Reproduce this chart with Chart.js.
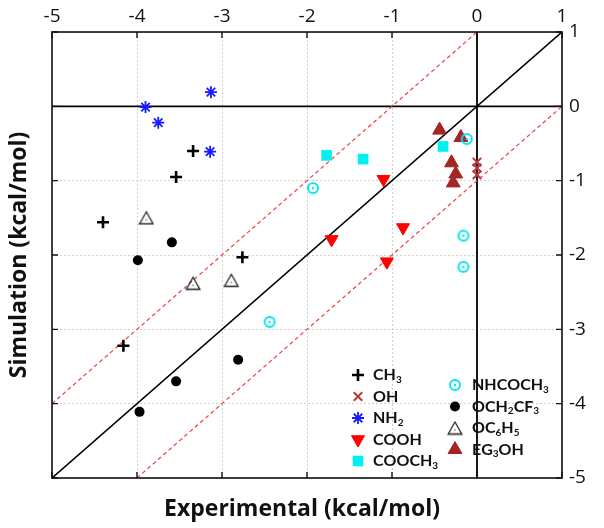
<!DOCTYPE html>
<html>
<head>
<meta charset="utf-8">
<script src="https://cdn.jsdelivr.net/npm/chart.js@4/dist/chart.umd.min.js"></script>
<style>
html,body{margin:0;padding:0;background:#fff;}
#wrap{width:604px;height:528px;position:relative;}
</style>
</head>
<body>
<div id="wrap"><canvas id="c" width="604" height="528"></canvas></div>
<script>
// ---- data ----
const xTicks = [-5, -4, -3, -2, -1, 0, 1];
const yTicks = [-5, -4, -3, -2, -1, 0, 1];
const xTitle = "Experimental (kcal/mol)";
const yTitle = "Simulation (kcal/mol)";

const ch3X = [-3.34, -3.54, -4.40, -2.76, -4.16];
const ch3Y = [-0.60, -0.95, -1.56, -2.03, -3.22];
const ohX = [0, 0, 0];
const ohY = [-0.75, -0.83, -0.92];
const nh2X = [-3.13, -3.90, -3.75, -3.14];
const nh2Y = [0.19, -0.01, -0.22, -0.61];
const coohX = [-1.10, -0.87, -1.71, -1.06];
const coohY = [-0.98, -1.63, -1.79, -2.09];
const cooch3X = [-1.77, -1.34, -0.40];
const cooch3Y = [-0.66, -0.71, -0.54];
const nhcoch3X = [-2.44, -1.93, -0.12, -0.16, -0.16];
const nhcoch3Y = [-2.90, -1.10, -0.44, -1.74, -2.16];
const och2cf3X = [-3.59, -3.99, -2.81, -3.54, -3.97];
const och2cf3Y = [-1.83, -2.07, -3.41, -3.70, -4.11];
const oc6h5X = [-3.89, -3.34, -2.89];
const oc6h5Y = [-1.50, -2.38, -2.34];
const eg3ohX = [-0.44, -0.19, -0.30, -0.25, -0.28];
const eg3ohY = [-0.32, -0.42, -0.76, -0.91, -1.03];

// reference line offsets (y = x + k)
const diagOffsets = [0, 1, -1];

const FONT = "'Open Sans', Lato, sans-serif";
const LFONT = "Lato, 'Open Sans', sans-serif";

function pts(xs, ys){ return xs.map((v,i)=>({x:v, y:ys[i]})); }

// custom marker images
function circleDot(){
  const c = document.createElement('canvas'); c.width = 14; c.height = 14;
  const g = c.getContext('2d');
  g.strokeStyle = '#00e8f0'; g.lineWidth = 2;
  g.beginPath(); g.arc(7,7,5,0,Math.PI*2); g.stroke();
  g.fillStyle = '#00e8f0'; g.beginPath(); g.arc(7,7,1.2,0,Math.PI*2); g.fill();
  return c;
}
function triDot(){
  const c = document.createElement('canvas'); c.width = 16; c.height = 15;
  const g = c.getContext('2d');
  g.strokeStyle = '#222'; g.lineWidth = 1.3;
  g.beginPath(); g.moveTo(8,1.5); g.lineTo(14.8,13.5); g.lineTo(1.2,13.5); g.closePath(); g.stroke();
  g.fillStyle = '#555'; g.beginPath(); g.arc(8,9.5,0.8,0,Math.PI*2); g.fill();
  return c;
}
const imgCircleDot = circleDot();
const imgTriDot = triDot();

const series = [
  {label:'CH₃', xs:ch3X, ys:ch3Y, style:'cross', r:6, color:'#000', fill:'#000', bw:2.6, col:0},
  {label:'OH', xs:ohX, ys:ohY, style:'crossRot', r:6, color:'#b83838', fill:'#b83838', bw:2, col:0},
  {label:'NH₂', xs:nh2X, ys:nh2Y, style:'star', r:6, color:'#1a1aff', fill:'#1a1aff', bw:1.8, col:0},
  {label:'COOH', xs:coohX, ys:coohY, style:'triangle', rot:180, r:7.5, color:'#ff0000', fill:'#ff0000', bw:1, col:0},
  {label:'COOCH₃', xs:cooch3X, ys:cooch3Y, style:'rect', r:7.5, color:'#00f0f0', fill:'#00f0f0', bw:0, col:0},
  {label:'NHCOCH₃', xs:nhcoch3X, ys:nhcoch3Y, style:imgCircleDot, r:7, color:'#00e8f0', fill:'#00e8f0', bw:0, col:1},
  {label:'OCH₂CF₃', xs:och2cf3X, ys:och2cf3Y, style:'circle', r:5, color:'#000', fill:'#000', bw:0, col:1},
  {label:'OC₆H₅', xs:oc6h5X, ys:oc6h5Y, style:imgTriDot, r:7, color:'#222', fill:'#fff', bw:1.3, col:1},
  {label:'EG₃OH', xs:eg3ohX, ys:eg3ohY, style:'triangle', r:8, color:'#a52424', fill:'#a52424', bw:1, col:1}
];

const xMin = xTicks[0], xMax = xTicks[xTicks.length-1];
const yMin = yTicks[0], yMax = yTicks[yTicks.length-1];

const datasets = series.map(s => ({
  type:'scatter', label:s.label, data:pts(s.xs, s.ys),
  pointStyle:s.style, pointRadius:s.r, pointRotation:s.rot||0,
  pointBorderWidth:s.bw, borderColor:s.color, backgroundColor:s.fill,
  pointHoverRadius:s.r, order:0
}));

// diagonal lines y = x + k, clipped at the axis box
diagOffsets.forEach(k => {
  const x0 = Math.max(xMin, yMin - k), x1 = Math.min(xMax, yMax - k);
  datasets.push({type:'line', label:'_diag'+k, data:[{x:x0,y:x0+k},{x:x1,y:x1+k}],
    borderColor: k===0 ? '#000' : '#f04040', borderWidth: k===0 ? 1.6 : 1.2,
    borderDash: k===0 ? [] : [4,3], pointRadius:0, fill:false, order:5});
});
// zero lines
datasets.push({type:'line', label:'_h0', data:[{x:xMin,y:0},{x:xMax,y:0}], borderColor:'#000', borderWidth:1.8, pointRadius:0, order:5});
datasets.push({type:'line', label:'_v0', data:[{x:0,y:yMin},{x:0,y:yMax}], borderColor:'#000', borderWidth:1.8, pointRadius:0, order:5});

const SUBS = '₀₁₂₃₄₅₆₇₈₉';
function drawRich(ctx, text, x, y, size){
  let cx = x;
  for (const ch of text){
    const si = SUBS.indexOf(ch);
    if (si >= 0){
      ctx.font = `bold ${Math.round(size*0.65)}px ${LFONT}`;
      ctx.fillText(String(si), cx, y + size*0.28);
      cx += ctx.measureText(String(si)).width;
    } else {
      ctx.font = `bold ${size}px ${LFONT}`;
      ctx.fillText(ch, cx, y);
      cx += ctx.measureText(ch).width;
    }
  }
}

const deco = {
  id:'deco',
  afterDraw(chart){
    const {ctx, chartArea:a, scales} = chart;
    const x = scales.x, y = scales.y;
    ctx.save();
    ctx.strokeStyle = '#111'; ctx.lineWidth = 1.6;
    ctx.strokeRect(a.left, a.top, a.right - a.left, a.bottom - a.top);
    ctx.lineWidth = 1.4;
    ctx.beginPath();
    xTicks.forEach(v => { const p = x.getPixelForValue(v);
      ctx.moveTo(p, a.top); ctx.lineTo(p, a.top + 6);
      ctx.moveTo(p, a.bottom); ctx.lineTo(p, a.bottom - 6); });
    yTicks.forEach(v => { const p = y.getPixelForValue(v);
      ctx.moveTo(a.left, p); ctx.lineTo(a.left + 6, p);
      ctx.moveTo(a.right, p); ctx.lineTo(a.right - 6, p); });
    ctx.stroke();

    // titles
    ctx.fillStyle = '#111';
    ctx.font = `bold 23px ${FONT}`;
    ctx.textAlign = 'center'; ctx.textBaseline = 'middle';
    ctx.fillText(xTitle, (a.left + a.right)/2 - 5, 509);
    ctx.save();
    ctx.translate(19, (a.top + a.bottom)/2);
    ctx.rotate(-Math.PI/2);
    ctx.fillText(yTitle, 0, 0);
    ctx.restore();

    // legend
    const cols = [{mx:358, tx:373, y0:375, dy:21.5}, {mx:455, tx:472, y0:385, dy:21.5}];
    const counts = [0,0];
    const H = Chart.helpers;
    series.forEach(s => {
      const c = cols[s.col];
      const yy = c.y0 + counts[s.col]*c.dy; counts[s.col]++;
      ctx.save();
      ctx.fillStyle = s.fill; ctx.strokeStyle = s.color; ctx.lineWidth = s.bw;
      if (H && H.drawPoint) {
        H.drawPoint(ctx, {pointStyle:s.style, radius:s.r, rotation:s.rot||0, borderWidth:s.bw}, c.mx, yy);
      }
      ctx.restore();
      ctx.fillStyle = '#111'; ctx.textAlign = 'left'; ctx.textBaseline = 'middle';
      drawRich(ctx, s.label, c.tx, yy, 16);
    });
    ctx.restore();
  }
};

new Chart(document.getElementById('c'), {
  type:'scatter',
  data:{datasets},
  plugins:[deco],
  options:{
    responsive:false, animation:false, devicePixelRatio:1,
    layout:{padding:{left:52, bottom:50, top:0, right:0}},
    plugins:{legend:{display:false}, tooltip:{enabled:false}, title:{display:false}},
    scales:{
      x:{type:'linear', position:'top', min:xMin, max:xMax,
        afterFit(s){ s.height = 32; },
        afterBuildTicks(s){ s.ticks = xTicks.map(v=>({value:v})); },
        ticks:{font:{family:FONT, size:19}, color:'#111', padding:4},
        grid:{color:'#cfcfcf', lineWidth:1, drawTicks:false},
        border:{display:false, dash:[2,2]}},
      y:{type:'linear', position:'right', min:yMin, max:yMax,
        afterFit(s){ s.width = 42; },
        afterBuildTicks(s){ s.ticks = yTicks.map(v=>({value:v})); },
        ticks:{font:{family:FONT, size:19}, color:'#111', padding:7},
        grid:{color:'#cfcfcf', lineWidth:1, drawTicks:false},
        border:{display:false, dash:[2,2]}}
    }
  }
});
</script>
</body>
</html>
